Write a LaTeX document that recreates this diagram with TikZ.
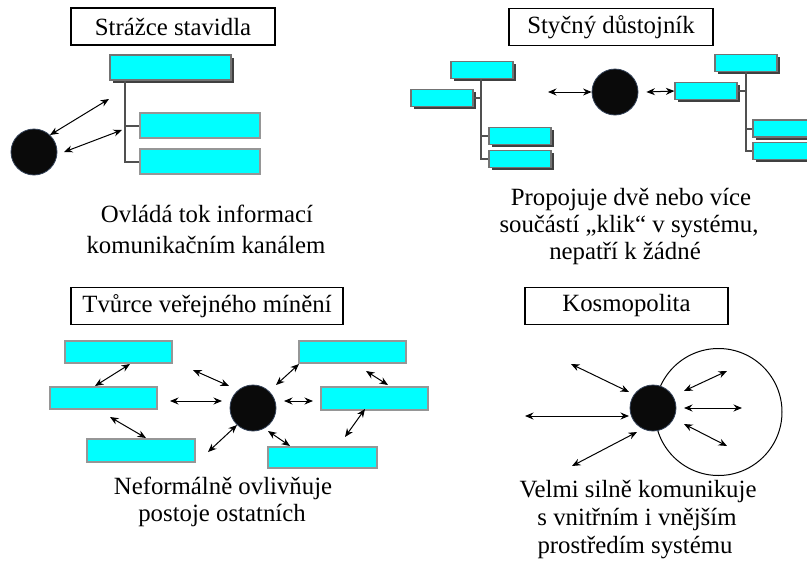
\documentclass[tikz,border=0pt]{standalone}
\usepackage{fontspec}
\setmainfont{Liberation Serif}
\usetikzlibrary{arrows.meta,shadows}
\definecolor{dotrim}{RGB}{52,66,88}
\definecolor{boxrim}{RGB}{150,150,150}
\definecolor{treeline}{RGB}{80,80,80}
\definecolor{aqua}{RGB}{0,255,255}

\begin{document}
\begin{tikzpicture}[x=1pt,y=-1pt,
  lbl/.style={font=\fontsize{24.8}{28}\selectfont, inner sep=0pt},
  titlebox/.style={lbl, draw=black, line width=1.1pt, minimum height=37pt},
  cybox/.style={rectangle, fill=aqua, draw=boxrim, line width=1.2pt, inner sep=0pt},
  shadowbox/.style={cybox, draw=black!55,
    drop shadow={shadow xshift=2.5pt, shadow yshift=-2.5pt, fill=black!75, opacity=1}},
  dot/.style={circle, fill=black!96, draw=dotrim, line width=0.8pt, inner sep=0pt, minimum size=46pt},
  tree/.style={draw=treeline, line width=2pt},
  twoway/.style={draw=black, line width=1pt, {Stealth[length=8.5pt,width=7pt]}-{Stealth[length=8.5pt,width=7pt]}},
]
\useasboundingbox (0,0) rectangle (807,563);
\fill[white] (0,0) rectangle (807,563);
\clip (0,0) rectangle (807,563);

% ---------- Strážce stavidla ----------
\node[titlebox, minimum width=204pt] (h1) at (173,26.5) {Strážce stavidla};
\node[shadowbox, minimum width=121pt, minimum height=25pt] (t1) at (170.5,67.5) {};
\node[cybox, minimum width=120pt, minimum height=25pt] (b12) at (200,125.5) {};
\node[cybox, minimum width=120pt, minimum height=25pt] (b13) at (200,161.5) {};
\coordinate (v1) at (125,0);
\draw[tree] (t1.south -| v1) -- (v1 |- b13.west) -- (b13.west);
\draw[tree] (v1 |- b12.west) -- (b12.west);
\node[dot] (c1) at (34,152) {};
\coordinate (p1) at (50,135);  \coordinate (q1) at (109,99);
\coordinate (p2) at (64,152);  \coordinate (q2) at (122,130);
\draw[twoway] (p1) -- (q1);
\draw[twoway] (p2) -- (q2);
\node[lbl, anchor=base] (s1a) at (207,222) {Ovládá tok informací};
\node[lbl, anchor=base] (s1b) at (206,253) {komunikačním kanálem};

% ---------- Styčný důstojník ----------
\node[titlebox, minimum width=204pt] (h2) at (611,27) {Styčný důstojník};
\node[shadowbox, minimum width=62pt, minimum height=17pt] (lt) at (482,70) {};
\node[shadowbox, minimum width=62pt, minimum height=17pt] (lA) at (442,98) {};
\node[shadowbox, minimum width=62pt, minimum height=17pt] (lB) at (520,136) {};
\node[shadowbox, minimum width=62pt, minimum height=17pt] (lC) at (520,159) {};
\coordinate (v2) at (481,0);
\draw[tree] (lt.south -| v2) -- (v2 |- lC.west) -- (lC.west);
\draw[tree] (v2 |- lB.west) -- (lB.west);
\draw[tree] (v2 |- lA.east) -- (lA.east);
\node[dot] (c2) at (615,92) {};
\node[shadowbox, minimum width=62pt, minimum height=17pt] (rt) at (746,63) {};
\node[shadowbox, minimum width=62pt, minimum height=17pt] (rA) at (706,91) {};
\node[shadowbox, minimum width=62pt, minimum height=17pt] (rB) at (784,128.5) {};
\node[shadowbox, minimum width=62pt, minimum height=17pt] (rC) at (784,151) {};
\coordinate (v3) at (746,0);
\draw[tree] (rt.south -| v3) -- (v3 |- rC.west) -- (rC.west);
\draw[tree] (v3 |- rB.west) -- (rB.west);
\draw[tree] (v3 |- rA.east) -- (rA.east);
\coordinate (p3) at (548,92);
\draw[twoway] (p3) -- (c2.west);
\draw[twoway] ([xshift=8pt]c2.east) -- (rA.west);
\node[lbl, anchor=base] (s2a) at (631,205) {Propojuje dvě nebo více};
\node[lbl, anchor=base] (s2b) at (629,232) {součástí „klik“ v systému,};
\node[lbl, anchor=base] (s2c) at (625,259) {nepatří k žádné};

% ---------- Tvůrce veřejného mínění ----------
\node[titlebox, minimum width=272pt] (h3) at (207,306) {Tvůrce veřejného mínění};
\node[cybox, minimum width=107pt, minimum height=22pt] (B1) at (118.5,352) {};
\node[cybox, minimum width=107pt, minimum height=22pt] (B2) at (103.5,398) {};
\node[cybox, minimum width=108pt, minimum height=23pt] (B3) at (141,450.5) {};
\node[cybox, minimum width=107pt, minimum height=22pt] (B4) at (352.5,352) {};
\node[cybox, minimum width=107pt, minimum height=23pt] (B5) at (374.5,398.5) {};
\node[cybox, minimum width=109pt, minimum height=21pt] (B6) at (322.5,457.5) {};
\node[dot] (c3) at (253,408) {};
\coordinate (p4) at (130,364);  \coordinate (q4) at (95,386);
\coordinate (p5) at (110,417);  \coordinate (q5) at (146,438);
\coordinate (p6) at (193,370);  \coordinate (q6) at (229,386);
\coordinate (p7) at (170,401);  \coordinate (q7) at (222,401);
\coordinate (p8) at (208,452);  \coordinate (q8) at (237,425);
\coordinate (p9) at (276,385);  \coordinate (q9) at (299,364);
\coordinate (p10) at (284,401); \coordinate (q10) at (313,401);
\coordinate (p11) at (268,431); \coordinate (q11) at (290,446);
\coordinate (p12) at (366,371); \coordinate (q12) at (388,385);
\coordinate (p13) at (345,437); \coordinate (q13) at (365,409);
\foreach \k in {4,...,13} \draw[twoway] (p\k) -- (q\k);
\node[lbl, anchor=base] (s3a) at (223,494) {Neformálně ovlivňuje};
\node[lbl, anchor=base] (s3b) at (222,521) {postoje ostatních};

% ---------- Kosmopolita ----------
\node[titlebox, minimum width=203pt] (h4) at (626.5,306) {Kosmopolita};
\node[circle, draw=black, line width=1pt, minimum size=127pt, inner sep=0pt] (ring) at (718.5,412) {};
\node[dot] (c4) at (653,408) {};
\coordinate (p14) at (571,364); \coordinate (q14) at (629,392);
\coordinate (p15) at (525,416); \coordinate (q15) at (629,416);
\coordinate (p16) at (572,466); \coordinate (q16) at (637,432);
\coordinate (p17) at (684,391); \coordinate (q17) at (727,371);
\coordinate (p18) at (684,408); \coordinate (q18) at (742,408);
\coordinate (p19) at (684,424); \coordinate (q19) at (727,446);
\foreach \k in {14,...,19} \draw[twoway] (p\k) -- (q\k);
\node[lbl, anchor=base] (s4a) at (638,497) {Velmi silně komunikuje};
\node[lbl, anchor=base] (s4b) at (637,525) {s vnitřním i vnějším};
\node[lbl, anchor=base] (s4c) at (635,553) {prostředím systému};
\end{tikzpicture}
\end{document}
